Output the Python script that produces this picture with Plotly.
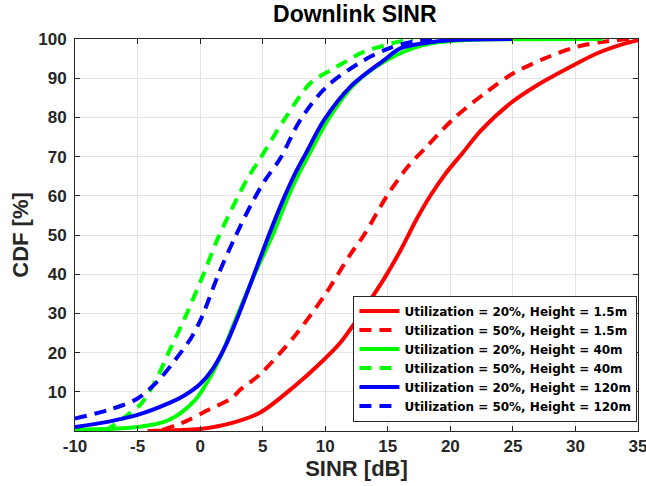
import plotly.graph_objects as go

# ---- data ----
red_solid_x = [-4.2, -2, 0, 2.5, 4.8, 7.5, 9.6, 11.2, 13.3, 14.7, 16, 17.3, 18.4, 19.7, 21, 22.4, 24.8, 27.2, 29.6, 31.7, 33.6, 35]
red_solid_y = [0, 0.2, 0.5, 2, 4.7, 11.3, 17.3, 22.5, 32, 38.8, 46, 54, 60, 66, 71, 76.5, 83.6, 88.7, 92.9, 96.3, 98.5, 99.7]

red_dash_x = [-3, -1.2, 0.67, 2.5, 3.2, 4.8, 7.5, 9.6, 10.4, 12, 13.1, 14.9, 16.5, 18.1, 20.3, 22.7, 24.8, 27.5, 30.1, 32.2, 34.4]
red_dash_y = [0.3, 2.4, 5.4, 8.3, 10.5, 14.5, 24, 33, 36.8, 45, 50, 59.8, 67, 72.5, 79.8, 86, 90.8, 95, 98, 99.3, 100]

green_solid_x = [-10, -5, -2.5, -0.4, 0.67, 1.7, 2.6, 3.3, 4.5, 5.8, 6.9, 7.9, 8.7, 10.2, 12.3, 14.9, 17.9, 21, 25, 32.2]
green_solid_y = [0.3, 1, 2.8, 7.9, 13, 19.5, 26.5, 32, 41, 50, 58.7, 65.7, 70.5, 79.3, 88.4, 94.6, 98.5, 99.7, 99.95, 100]

green_dash_x = [-7.6, -6, -4.7, -3.6, -2.3, -1.2, 0.27, 1.4, 2.9, 3.8, 4.8, 6.7, 8.8, 10.4, 11.5, 13.1, 14.7, 15.7, 17]
green_dash_y = [0, 3.6, 7, 12.6, 21.5, 29, 40, 49, 59, 64.5, 69.5, 79.3, 88.7, 92, 94, 96.8, 98.3, 99.2, 100]

blue_solid_x = [-10, -7.3, -5, -2.5, -1.2, 0, 1.0, 2.0, 3.0, 4.2, 5.5, 6.6, 7.6, 8.4, 9.9, 12, 14.7, 16, 18, 20, 25]
blue_solid_y = [1, 2.4, 4.1, 7.1, 9.2, 12, 15.8, 21.5, 29, 39, 50, 58.7, 65.7, 70.5, 79.3, 87.8, 94.6, 97.6, 99, 99.7, 100]

blue_dash_x = [-10, -7.3, -5, -3.3, -2, -0.67, 0.13, 1.47, 2.8, 4.2, 5.2, 6.4, 8, 10.1, 13.1, 15, 17, 20]
blue_dash_y = [3.2, 5.4, 8.3, 13, 18.1, 24, 29, 40, 49.5, 58.5, 64, 69.5, 79.3, 87.8, 94.6, 97.5, 99.3, 100]

names = [
    "Utilization = 20%, Height = 1.5m",
    "Utilization = 50%, Height = 1.5m",
    "Utilization = 20%, Height = 40m",
    "Utilization = 50%, Height = 40m",
    "Utilization = 20%, Height = 120m",
    "Utilization = 50%, Height = 120m",
]
x_ticks = [-10, -5, 0, 5, 10, 15, 20, 25, 30, 35]
y_ticks = [10, 20, 30, 40, 50, 60, 70, 80, 90, 100]

series = [
    (red_solid_x, red_solid_y, "#ff0000", "solid"),
    (red_dash_x, red_dash_y, "#ff0000", "dash"),
    (green_solid_x, green_solid_y, "#00ff00", "solid"),
    (green_dash_x, green_dash_y, "#00ff00", "dash"),
    (blue_solid_x, blue_solid_y, "#0000ff", "solid"),
    (blue_dash_x, blue_dash_y, "#0000ff", "dash"),
]

fig = go.Figure()
for (xs, ys, col, style), nm in zip(series, names):
    fig.add_trace(go.Scatter(
        x=xs, y=ys, mode="lines", name=nm,
        line=dict(color=col, width=4, shape="spline", smoothing=0.9,
                  dash="solid" if style == "solid" else "12px,8px"),
    ))

FONT = "Liberation Sans, Arial, sans-serif"
fig.update_layout(
    width=646, height=486,
    margin=dict(l=75, r=8, t=39, b=55),
    paper_bgcolor="white", plot_bgcolor="white",
    font=dict(family=FONT, color="#262626"),
    title=dict(text="<b>Downlink SINR</b>", xref="paper", x=0.497, xanchor="center",
               yref="container", y=0.971, yanchor="middle",
               font=dict(size=23, color="#000000")),
    showlegend=True,
    legend=dict(x=0.999, xanchor="right", y=0.024, yanchor="bottom",
                bgcolor="white", bordercolor="#262626", borderwidth=1,
                font=dict(family="DejaVu Sans, sans-serif", size=12, color="#000000", weight="bold"),
                itemwidth=40, tracegroupgap=0),
)
fig.update_xaxes(
    range=[-10, 35], tickvals=x_ticks, ticktext=[str(v) for v in x_ticks],
    automargin=False,
    showgrid=True, gridcolor="#e3e3e3", gridwidth=1,
    showline=True, linecolor="#262626", linewidth=1, mirror="ticks",
    ticks="inside", ticklen=5, tickcolor="#262626",
    tickfont=dict(size=17, weight="bold", color="#262626"),
    ticklabeloverflow="allow",
    title=dict(text="<b>SINR [dB]</b>", font=dict(size=22, color="#262626"), standoff=1),
    zeroline=False,
)
fig.update_yaxes(
    range=[0, 100], tickvals=y_ticks, ticktext=[str(v) for v in y_ticks],
    automargin=False,
    showgrid=True, gridcolor="#e3e3e3", gridwidth=1,
    showline=True, linecolor="#262626", linewidth=1, mirror="ticks",
    ticks="inside", ticklen=5, tickcolor="#262626",
    tickfont=dict(size=17, weight="bold", color="#262626"),
    ticklabelstandoff=4,
    title=dict(text="<b>CDF [%]</b>", font=dict(size=22, color="#262626"), standoff=3),
    zeroline=False,
)
fig.write_html("out.html", config={"displayModeBar": False},
               post_script="document.body.style.margin='0';")
